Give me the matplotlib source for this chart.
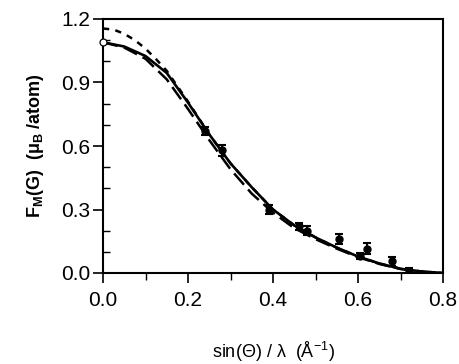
import matplotlib
matplotlib.use("Agg")
import matplotlib.pyplot as plt
from matplotlib.ticker import MultipleLocator

plt.rcParams['font.family'] = ['Liberation Sans', 'DejaVu Sans']
plt.rcParams['mathtext.fontset'] = 'custom'
plt.rcParams['mathtext.rm'] = 'Liberation Sans'
plt.rcParams['mathtext.bf'] = 'Liberation Sans:bold'
plt.rcParams['mathtext.it'] = 'Liberation Sans:italic'

# measured data
data_x = [0.24, 0.28, 0.39, 0.46, 0.48, 0.555, 0.605, 0.62, 0.68, 0.72]
data_y = [0.67, 0.58, 0.30, 0.22, 0.20, 0.16, 0.08, 0.115, 0.055, 0.01]
data_err = [0.02, 0.025, 0.02, 0.015, 0.02, 0.025, 0.015, 0.025, 0.02, 0.015]

# open circle point
open_x = [0.0]
open_y = [1.09]

# solid curve
solid_x = [0.0, 0.05, 0.10, 0.15, 0.20, 0.25, 0.30, 0.35, 0.40, 0.45, 0.50,
           0.55, 0.60, 0.65, 0.70, 0.75, 0.80]
solid_y = [1.09, 1.07, 1.025, 0.945, 0.805, 0.655, 0.518, 0.405, 0.30, 0.225,
           0.168, 0.12, 0.078, 0.045, 0.02, 0.007, 0.0]

# short-dashed curve
sdash_x = [0.0, 0.025, 0.05, 0.075, 0.10, 0.125, 0.15, 0.20, 0.25, 0.30, 0.35,
           0.40, 0.45, 0.50, 0.55, 0.60, 0.65, 0.70, 0.75, 0.80]
sdash_y = [1.155, 1.15, 1.13, 1.10, 1.06, 1.01, 0.955, 0.81, 0.655, 0.518, 0.405,
           0.30, 0.225, 0.168, 0.12, 0.078, 0.045, 0.02, 0.007, 0.0]

# long-dashed curve
ldash_x = [0.0, 0.05, 0.10, 0.15, 0.20, 0.25, 0.30, 0.35, 0.40, 0.45, 0.50,
           0.55, 0.60, 0.65, 0.70, 0.75, 0.80]
ldash_y = [1.09, 1.065, 1.012, 0.915, 0.775, 0.628, 0.49, 0.375, 0.285, 0.212,
           0.16, 0.115, 0.075, 0.043, 0.019, 0.006, 0.0]

xticks = [0.0, 0.2, 0.4, 0.6, 0.8]
yticks = [0.0, 0.3, 0.6, 0.9, 1.2]

fig = plt.figure(figsize=(4.59, 3.64), dpi=100)
ax = fig.add_axes([103/459, 1-273/364, 340/459, 254/364])

ax.plot(sdash_x, sdash_y, color='black', lw=1.8, linestyle=(0, (2.5, 2.5)))
ax.plot(ldash_x, ldash_y, color='black', lw=1.8, linestyle=(0, (6, 2.5)))
ax.plot(solid_x, solid_y, color='black', lw=1.9)
ax.errorbar(data_x, data_y, yerr=data_err, fmt='o', color='black', ms=5,
            capsize=3, elinewidth=1.5, capthick=1.5)
ax.plot(open_x, open_y, 'o', mfc='white', mec='black', ms=5, mew=0.9,
        clip_on=False, zorder=5)

ax.set_xlim(0, 0.8)
ax.set_ylim(0, 1.2)
ax.set_xticks(xticks)
ax.set_yticks(yticks)
ax.set_xticklabels([f"{v:.1f}" for v in xticks])
ax.set_yticklabels([f"{v:.1f}" for v in yticks])
ax.xaxis.set_minor_locator(MultipleLocator(0.1))
ax.yaxis.set_minor_locator(MultipleLocator(0.1))

for s in ax.spines.values():
    s.set_linewidth(1.5)

ax.tick_params(axis='both', which='major', direction='out', length=7, width=1.2,
               labelsize=15)
ax.tick_params(axis='x', which='major', pad=6)
ax.tick_params(axis='y', which='major', pad=2)
ax.tick_params(axis='x', which='minor', direction='out', length=5, width=1.0)
ax.tick_params(axis='y', which='minor', direction='in', length=5, width=1.0)

ax.set_xlabel("sin(Θ) / λ  (Å$^{\\mathrm{-1}}$)", fontsize=13)
ax.xaxis.set_label_coords(0.5, -(352 - 273) / 254)
ax.xaxis.label.set_va('center')
ax.set_ylabel("F$_{\\mathbf{M}}$(G)  (μ$_{\\mathbf{B}}$ /atom)", fontsize=13,
              fontweight='bold', labelpad=11)

fig.savefig("out.png", dpi=100)
